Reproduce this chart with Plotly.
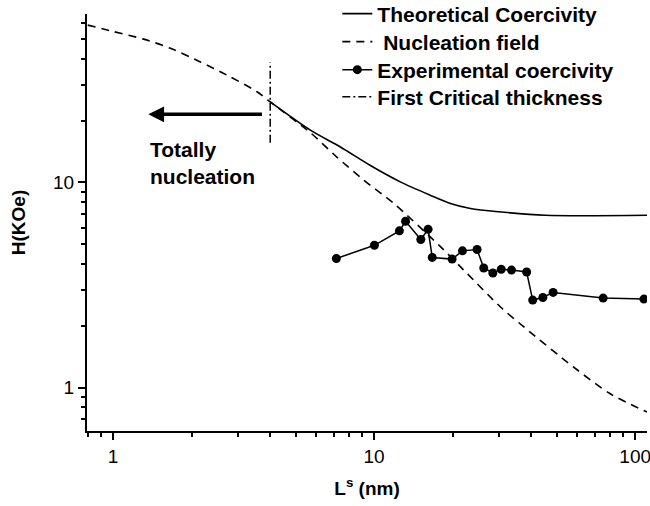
import plotly.graph_objects as go
import numpy as np

# Theoretical coercivity (solid)
theo_x = [4.0, 5.7, 7.43, 9.68, 12.6, 16.4, 19.6, 23.4, 30, 45.3, 111]
theo_h = [24.7, 18.0, 14.9, 12.1, 10.07, 8.67, 7.9, 7.47, 7.2, 6.92, 6.92]

# Nucleation field (dashed)
nuc_x = [0.8, 1.0, 1.31, 1.66, 2.16, 2.73, 3.56, 4.0, 5.7, 7.2, 9.1, 11.9, 18, 22, 30.5, 37.4, 58, 80, 111]
nuc_h = [58.5, 54.5, 50, 45.1, 38.7, 33.4, 27.7, 24.7, 17.5, 13.3, 10.3, 7.9, 4.85, 3.75, 2.47, 1.98, 1.26, 0.935, 0.76]

# Experimental coercivity
exp_x = [7.17, 10.03, 12.5, 13.2, 15.1, 16.1, 16.7, 19.9, 21.8, 24.8, 26.3, 28.5, 30.7, 33.6, 38.4, 40.5, 44.3, 48.5, 75.4, 108]
exp_h = [4.26, 4.94, 5.81, 6.47, 5.27, 5.91, 4.31, 4.23, 4.64, 4.71, 3.83, 3.62, 3.77, 3.74, 3.66, 2.67, 2.75, 2.91, 2.73, 2.70]

# First critical thickness (vertical dash-dot)
crit_x = [4.0, 4.0]
crit_h = [15.6, 38.6]

# Arrow ("Totally nucleation")
arrow_tail_x, arrow_head_x, arrow_h = 3.77, 1.365, 21.5

x_major = [1, 10, 100]
x_minor = [0.8, 0.9, 2, 3, 4, 5, 6, 7, 8, 9, 20, 30, 40, 50, 60, 70, 80, 90]
y_major = [1, 10]
y_minor = [0.7, 0.8, 0.9, 2, 3, 4, 5, 6, 7, 8, 9, 20, 30, 40, 50, 60]

FONT = "Liberation Sans, Arial, sans-serif"
LEG_FONT = dict(family=FONT, size=21, color="black", weight="bold")
W, H = 650, 506

fig = go.Figure()
fig.add_trace(go.Scatter(x=theo_x, y=theo_h, mode="lines", name="Theoretical Coercivity",
                         legend="legend",
                         line=dict(color="black", width=1.6, shape="spline", smoothing=0.8)))
fig.add_trace(go.Scatter(x=nuc_x, y=nuc_h, mode="lines", name="\u00a0Nucleation field",
                         legend="legend2",
                         line=dict(color="black", width=1.6, dash="8px,6px", shape="spline", smoothing=0.8)))
fig.add_trace(go.Scatter(x=exp_x, y=exp_h, mode="lines+markers", name="Experimental coercivity",
                         legend="legend3",
                         line=dict(color="black", width=1.5),
                         marker=dict(color="black", size=9)))
fig.add_trace(go.Scatter(x=crit_x, y=crit_h, mode="lines", name="First Critical thickness",
                         legend="legend4",
                         line=dict(color="black", width=1.5, dash="8px,3px,2px,3px")))

fig.add_annotation(x=np.log10(arrow_head_x), y=np.log10(arrow_h),
                   ax=np.log10(arrow_tail_x), ay=np.log10(arrow_h),
                   xref="x", yref="y", axref="x", ayref="y",
                   text="", showarrow=True, arrowhead=2, arrowsize=0.9, arrowwidth=3.5,
                   arrowcolor="black", standoff=0, startstandoff=0)
fig.add_annotation(x=np.log10(arrow_head_x), y=np.log10(12.4), xref="x", yref="y",
                   text="<b>Totally<br>nucleation</b>", showarrow=False,
                   xanchor="left", yanchor="middle", align="left",
                   font=dict(family=FONT, size=21, color="black"))

def leg(row_center_px):
    return dict(x=0.447, y=1 - row_center_px / H, xref="paper", yref="container",
                xanchor="left", yanchor="middle",
                bgcolor="rgba(0,0,0,0)", font=LEG_FONT)

fig.update_layout(
    width=W, height=H,
    margin=dict(l=87, r=3, t=14, b=75, autoexpand=False),
    paper_bgcolor="white", plot_bgcolor="white",
    font=dict(family=FONT, size=19, color="black"),
    showlegend=True,
    legend=leg(14), legend2=leg(42), legend3=leg(70), legend4=leg(97),
)
fig.update_xaxes(type="log", range=[np.log10(0.795), np.log10(111)],
                 showgrid=False, zeroline=False, showline=True, linecolor="black", linewidth=2,
                 tickmode="array", tickvals=x_major, ticktext=[str(v) for v in x_major],
                 ticks="outside", ticklen=7, tickwidth=1.5, tickcolor="black",
                 ticklabeloverflow="allow",
                 tickfont=dict(family=FONT, size=19, color="black"),
                 minor=dict(tickmode="array", tickvals=x_minor, ticks="outside", ticklen=4,
                            tickwidth=1.5, tickcolor="black", showgrid=False),
                 title=dict(text="<b>L<sup>s</sup> (nm)</b>", font=dict(family=FONT, size=19), standoff=16),
                 automargin=False)
fig.update_yaxes(type="log", range=[np.log10(0.614), np.log10(66.3)],
                 showgrid=False, zeroline=False, showline=True, linecolor="black", linewidth=2,
                 tickmode="array", tickvals=y_major, ticktext=[str(v) for v in y_major],
                 ticks="outside", ticklen=7, tickwidth=1.5, tickcolor="black",
                 tickfont=dict(family=FONT, size=19, color="black"),
                 minor=dict(tickmode="array", tickvals=y_minor, ticks="outside", ticklen=4,
                            tickwidth=1.5, tickcolor="black", showgrid=False),
                 title=dict(text="<b>H(KOe)</b>", font=dict(family=FONT, size=19), standoff=22),
                 automargin=False)

fig.write_html("out.html", config={"displayModeBar": False},
               post_script="document.body.style.margin='0';document.body.style.overflow='hidden';")
